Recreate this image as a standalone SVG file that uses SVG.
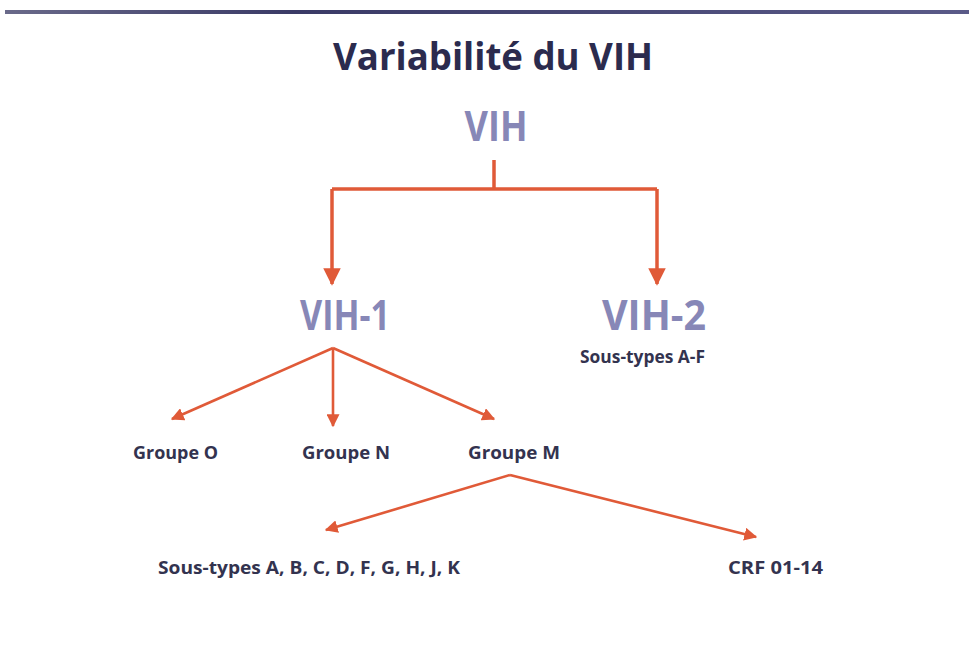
<svg xmlns="http://www.w3.org/2000/svg" width="969" height="646" viewBox="0 0 969 646">
  <defs>
    <linearGradient id="rule" x1="0" y1="0" x2="1" y2="0">
      <stop offset="0" stop-color="#6a6a8a"/>
      <stop offset="0.3" stop-color="#3a3a66"/>
      <stop offset="1" stop-color="#5a5a88"/>
    </linearGradient>
    <marker id="head" viewBox="0 0 10 10" refX="9" refY="5" markerWidth="5" markerHeight="5" orient="auto" markerUnits="strokeWidth">
      <path d="M0,0 L10,5 L0,10 z" fill="#e05a38"/>
    </marker>
  </defs>
  <style>
    .title { font-family: "Open Sans", "Liberation Sans", sans-serif; font-weight: 700; font-size: 37px; fill: #2b2b4e; }
    .big { font-family: "Open Sans", "Liberation Sans", sans-serif; font-weight: 700; font-size: 41px; fill: #8787b7; }
    .small { font-family: "Open Sans", "Liberation Sans", sans-serif; font-weight: 700; font-size: 17px; fill: #33334f; }
    .link { fill: none; stroke: #e05a38; stroke-width: 3.5; stroke-linejoin: round; }
    .thin { fill: none; stroke: #e05a38; stroke-width: 2.6; }
  </style>
  <rect width="969" height="646" fill="#ffffff"/>
  <rect x="5" y="10" width="964" height="4" fill="url(#rule)"/>

  <text class="title" x="493" y="70" text-anchor="middle" textLength="320" lengthAdjust="spacingAndGlyphs">Variabilité du VIH</text>

  <g id="connectors">
    <path class="link" d="M494,160 V189 M332,189 H657"/>
    <path class="link" d="M332,189 V284" marker-end="url(#head)"/>
    <path class="link" d="M657,189 V284" marker-end="url(#head)"/>
    <path class="thin" d="M333,348 L172,419" marker-end="url(#head)"/>
    <path class="thin" d="M333,348 L333,426" marker-end="url(#head)"/>
    <path class="thin" d="M333,348 L494,419" marker-end="url(#head)"/>
    <path class="thin" d="M510,475 L326,530" marker-end="url(#head)"/>
    <path class="thin" d="M510,475 L756,537" marker-end="url(#head)"/>
  </g>

  <g id="vih"><text class="big" x="496" y="141" text-anchor="middle" textLength="63" lengthAdjust="spacingAndGlyphs">VIH</text></g>
  <g id="vih1"><text class="big" x="345" y="330" text-anchor="middle" textLength="90" lengthAdjust="spacingAndGlyphs">VIH-1</text></g>
  <g id="vih2">
    <text class="big" x="654" y="330" text-anchor="middle" textLength="104" lengthAdjust="spacingAndGlyphs">VIH-2</text>
    <text class="small" x="580" y="363" textLength="125" lengthAdjust="spacingAndGlyphs">Sous-types A-F</text>
  </g>
  <g id="groupe-o"><text class="small" x="133" y="459" textLength="85" lengthAdjust="spacingAndGlyphs">Groupe O</text></g>
  <g id="groupe-n"><text class="small" x="302" y="459" textLength="88" lengthAdjust="spacingAndGlyphs">Groupe N</text></g>
  <g id="groupe-m"><text class="small" x="468" y="459" textLength="92" lengthAdjust="spacingAndGlyphs">Groupe M</text></g>
  <g id="sous-types"><text class="small" x="158" y="574" textLength="302" lengthAdjust="spacingAndGlyphs">Sous-types A, B, C, D, F, G, H, J, K</text></g>
  <g id="crf"><text class="small" x="728" y="574" textLength="95" lengthAdjust="spacingAndGlyphs">CRF 01-14</text></g>
</svg>
